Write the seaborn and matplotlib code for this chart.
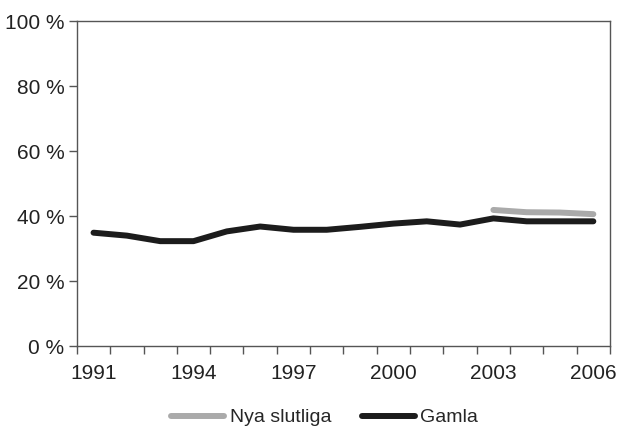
import numpy as np
import pandas as pd
import matplotlib
matplotlib.use("Agg")
import matplotlib.pyplot as plt
import seaborn as sns

# Data
years = list(range(1991, 2007))
gamla = [34.9, 34.0, 32.3, 32.3, 35.3, 36.8, 35.8, 35.8, 36.7, 37.7, 38.4, 37.4, 39.3, 38.4, 38.4, 38.4]
nya_years = [2003, 2004, 2005, 2006]
nya = [41.9, 41.2, 41.1, 40.6]

df = pd.concat([
    pd.DataFrame({'year': nya_years, 'value': nya, 'series': 'Nya slutliga'}),
    pd.DataFrame({'year': years, 'value': gamla, 'series': 'Gamla'}),
])

sns.set_style("white")
plt.rcParams['font.family'] = ['Liberation Sans', 'DejaVu Sans']

fig = plt.figure(figsize=(6.25, 4.3), dpi=100)
ax = fig.add_axes([0.123, 0.195, 0.853, 0.756])

palette = {'Nya slutliga': '#aaaaaa', 'Gamla': '#1c1c1c'}
sns.lineplot(data=df, x='year', y='value', hue='series', palette=palette,
             linewidth=4.3, ax=ax, legend=True, solid_capstyle='round')

ax.set_xlim(1990.5, 2006.5)
ax.set_ylim(0, 100)
ax.set_xlabel('')
ax.set_ylabel('')

# labels at year centres, tick marks between years
ax.set_xticks(list(range(1991, 2007, 3)))
ax.set_xticklabels([str(y) for y in range(1991, 2007, 3)])
ax.set_xticks(np.arange(1990.5, 2007, 1), minor=True)
ax.tick_params(axis='x', which='major', length=0, pad=13, labelsize=15, labelcolor='#222222')
ax.tick_params(axis='x', which='minor', length=6, width=1, color='#555555', direction='out', bottom=True)
ax.set_yticks(range(0, 101, 20))
ax.set_yticklabels([f'{v} %' for v in range(0, 101, 20)])
ax.tick_params(axis='y', length=6, width=1, color='#555555', direction='out', left=True,
               labelsize=15, labelcolor='#222222', pad=3)

for s in ax.spines.values():
    s.set_color('#555555')
    s.set_linewidth(1)

ax.legend(loc='center', bbox_to_anchor=(0.465, -0.22), ncol=2, frameon=False,
          fontsize=14, handlelength=2.7, handletextpad=0.3, columnspacing=1.6)

fig.savefig('out.png', dpi=100)
